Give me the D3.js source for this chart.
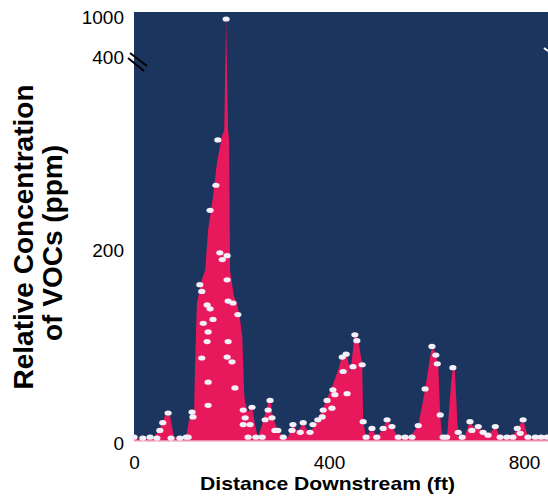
<!DOCTYPE html>
<html><head><meta charset="utf-8">
<script src="https://cdn.jsdelivr.net/npm/d3@7"></script>
<style>
html,body{margin:0;padding:0;background:#fff;}
svg{display:block;font-family:Arial,"Liberation Sans",sans-serif;}
</style></head>
<body>
<svg id="chart" width="548" height="500"></svg>
<script>
// Filled concentration profile (envelope)
const profileFt  = [0,33,41,53,68,74,82,107,113,119,123,125,129,139,146,152,162,170,181,185,189,193,195,197,205,211,217,222,226,228,234,242,248,254,263,271,279,285,295,306,316,326,336,347,357,367,377,392,406,419,427,435,444,453,460,468,470,476,488,498,511,519,529,542,566,583,597,611,617,624,628,632,642,650,654,658,663,665,677,689,699,706,716,726,741,751,775,786,798,808,847];
const profilePpm = [2,2,4,13,31,26,4,4,22,31,22,74,143,167,177,219,253,288,317,322,940,322,312,177,150,143,128,108,48,39,30,37,17,4,17,32,45,24,11,4,4,17,9,19,9,13,22,39,56,74,88,92,72,112,105,79,20,4,13,4,13,22,15,4,4,16,53,99,92,79,27,4,4,58,77,74,22,4,4,20,13,15,9,6,15,4,4,13,22,4,2];
// Sampled readings (white markers)
const sampleFt  = [0,18,33,47,53,59,70,76,94,107,111,119,121,135,139,139,142,150,150,152,152,152,156,156,162,168,172,176,181,189,191,191,191,193,193,201,203,207,213,224,224,228,234,238,242,250,263,269,275,279,283,289,295,306,324,326,341,347,361,367,377,386,388,396,406,408,412,427,429,435,437,449,453,457,468,470,476,488,498,511,519,529,542,556,570,583,597,611,619,622,628,634,641,654,665,673,689,693,706,716,726,741,751,765,777,786,792,798,808,823,835,847];
const samplePpm = [4,3,4,3,11,19,29,3,3,4,4,30,25,162,155,86,122,141,103,61,37,113,137,239,126,265,312,195,188,940,192,167,87,145,103,82,143,55,131,32,17,24,4,17,35,4,4,22,32,42,24,11,11,4,11,17,9,19,9,17,22,25,32,42,34,53,48,87,72,90,49,77,110,104,79,20,4,13,4,13,22,15,4,4,4,16,54,98,89,80,27,4,4,76,9,4,20,11,15,9,6,15,4,4,4,13,8,22,4,4,4,4];
const yTicks = [0,200,400,1000];
const xTicks = [0,400,800];
const xTitle = "Distance Downstream (ft)";
const yTitle1 = "Relative Concentration";
const yTitle2 = "of VOCs (ppm)";

const svg = d3.select("#chart");
const pLeft = 134, pRight = 548, pTop = 12, pBottom = 441;

const x = d3.scaleLinear().domain([0, 847]).range([pLeft, 547]);
const y = d3.scaleLinear().domain([0, 400, 1000]).range([pBottom, 55, 15]);

svg.append("rect").attr("x", pLeft).attr("y", pTop)
  .attr("width", pRight - pLeft).attr("height", pBottom - pTop)
  .attr("fill", "#1b355f");

const profile = profileFt.map((d, i) => ({x: d, v: profilePpm[i]}));
const samples = sampleFt.map((d, i) => ({x: d, v: samplePpm[i]}));

const area = d3.area()
  .x(d => x(d.x))
  .y0(y(0))
  .y1(d => y(d.v));

svg.append("path").datum(profile)
  .attr("d", area)
  .attr("fill", "#e8185c");

svg.append("line").attr("x1", pLeft).attr("x2", pRight)
  .attr("y1", pBottom).attr("y2", pBottom)
  .attr("stroke", "#f2b6c6").attr("stroke-width", 1.5);

svg.append("g").selectAll("ellipse").data(samples).join("ellipse")
  .attr("cx", d => x(d.x))
  .attr("cy", d => y(d.v))
  .attr("rx", 3.6).attr("ry", 2.6)
  .attr("fill", "#f4f0f8");

const yAxis = d3.axisLeft(y).tickValues(yTicks).tickSize(0).tickPadding(10)
  .tickFormat(d3.format("d"));
const gy = svg.append("g").attr("transform", `translate(${pLeft},2)`).call(yAxis);
gy.select(".domain").remove();
gy.selectAll("text").attr("font-size", 19).attr("fill", "#000")
  .attr("font-family", "Arial, 'Liberation Sans', sans-serif");

const xAxis = d3.axisBottom(x).tickValues(xTicks).tickSize(0).tickPadding(15)
  .tickFormat(d3.format("d"));
const gx = svg.append("g").attr("transform", `translate(0,${pBottom})`).call(xAxis);
gx.select(".domain").remove();
gx.selectAll("text").attr("font-size", 19).attr("fill", "#000")
  .attr("font-family", "Arial, 'Liberation Sans', sans-serif");

svg.append("line").attr("x1", 130).attr("y1", 53).attr("x2", 147).attr("y2", 66)
  .attr("stroke", "#000").attr("stroke-width", 2);
svg.append("line").attr("x1", 128).attr("y1", 58).attr("x2", 144).attr("y2", 71)
  .attr("stroke", "#000").attr("stroke-width", 2);
svg.append("line").attr("x1", 544).attr("y1", 48).attr("x2", 548).attr("y2", 51)
  .attr("stroke", "#fff").attr("stroke-width", 2);

svg.append("text").attr("x", 327.5).attr("y", 490)
  .attr("text-anchor", "middle").attr("font-weight", "bold")
  .attr("font-size", 19).attr("textLength", 255).attr("lengthAdjust", "spacingAndGlyphs")
  .text(xTitle);

svg.append("text").attr("transform", "translate(33,237) rotate(-90)")
  .attr("text-anchor", "middle").attr("font-weight", "bold").attr("font-size", 28)
  .text(yTitle1);
svg.append("text").attr("transform", "translate(62,243) rotate(-90)")
  .attr("text-anchor", "middle").attr("font-weight", "bold").attr("font-size", 28)
  .text(yTitle2);
</script>
</body></html>
